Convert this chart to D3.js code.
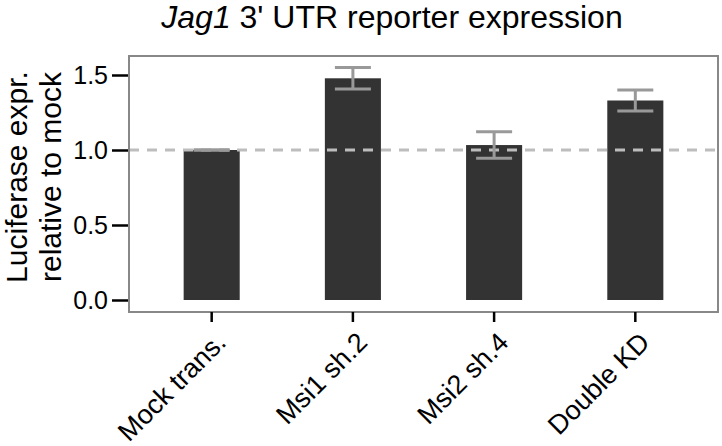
<!DOCTYPE html>
<html><head><meta charset="utf-8">
<script src="https://cdn.jsdelivr.net/npm/d3@7"></script>
<style>body{margin:0;background:#fff}svg{display:block}text{font-family:"Liberation Sans",Arial,sans-serif}</style>
</head><body>
<svg id="c" width="722" height="446"></svg>
<script>
const categories = ["Mock trans.", "Msi1 sh.2", "Msi2 sh.4", "Double KD"];
const means = [1.0, 1.478, 1.033, 1.33];
const errors = [0.0, 0.072, 0.088, 0.07];
const yTicks = [0.0, 0.5, 1.0, 1.5];
const refLine = 1.0;

const svg = d3.select("#c");
const L = 129, R = 718, T = 56, B = 312;

const x = d3.scaleBand().domain(categories).range([L, R]).paddingInner(0.603).paddingOuter(0.387);
const y = d3.scaleLinear().domain([0, 1.5]).range([300, 75]);

// bars
svg.selectAll("rect.bar").data(categories).join("rect")
  .attr("class","bar")
  .attr("x", d => x(d)).attr("width", x.bandwidth())
  .attr("y", (d,i) => y(means[i])).attr("height", (d,i) => y(0) - y(means[i]))
  .attr("fill", "#333333");

// reference dashed line
svg.append("line").attr("x1", L).attr("x2", R).attr("y1", y(refLine)).attr("y2", y(refLine))
  .attr("stroke", "#bdbdbd").attr("stroke-width", 3).attr("stroke-dasharray", "10,8");

// error bars
const capW = 36;
const eb = svg.selectAll("g.eb").data(categories).join("g").attr("class","eb")
  .attr("stroke", "#999999").attr("stroke-width", 3).attr("fill","none");
eb.append("line").attr("x1", d => x(d)+x.bandwidth()/2).attr("x2", d => x(d)+x.bandwidth()/2)
  .attr("y1", (d,i) => y(means[i]+errors[i])).attr("y2", (d,i) => y(means[i]-errors[i]));
eb.append("line").attr("x1", d => x(d)+x.bandwidth()/2-capW/2).attr("x2", d => x(d)+x.bandwidth()/2+capW/2)
  .attr("y1", (d,i) => y(means[i]+errors[i])).attr("y2", (d,i) => y(means[i]+errors[i]));
eb.append("line").attr("x1", d => x(d)+x.bandwidth()/2-capW/2).attr("x2", d => x(d)+x.bandwidth()/2+capW/2)
  .attr("y1", (d,i) => y(means[i]-errors[i])).attr("y2", (d,i) => y(means[i]-errors[i]));

// panel border
svg.append("rect").attr("x", L).attr("y", T).attr("width", R-L).attr("height", B-T)
  .attr("fill","none").attr("stroke","#888888").attr("stroke-width",2);

// y axis
const yAxis = d3.axisLeft(y).tickValues(yTicks).tickFormat(d3.format(".1f")).tickSize(18).tickPadding(3);
const ya = svg.append("g").attr("transform", `translate(${L},0)`).call(yAxis);
ya.select(".domain").remove();
ya.selectAll(".tick line").attr("stroke","#000").attr("stroke-width",2.5).attr("x2",-17).attr("x1",-1);
ya.selectAll(".tick text").attr("font-size", 25).attr("fill","#000").attr("font-family","Liberation Sans, Arial, sans-serif");

// x axis
const xAxis = d3.axisBottom(x).tickSize(10).tickPadding(4);
const xa = svg.append("g").attr("transform", `translate(0,${B})`).call(xAxis);
xa.select(".domain").remove();
xa.selectAll(".tick line").attr("stroke","#000").attr("stroke-width",2.5);
xa.selectAll(".tick text").attr("font-size", 27).attr("fill","#000")
  .attr("font-family","Liberation Sans, Arial, sans-serif")
  .attr("text-anchor","end").attr("dy", null).attr("y", 0)
  .attr("transform","translate(16,32) rotate(-45)");

// y title
const yt = svg.append("text").attr("transform","translate(0,177) rotate(-90)")
  .attr("text-anchor","middle").attr("font-size",30).attr("fill","#000");
yt.append("tspan").attr("x",0).attr("y",27).text("Luciferase expr.");
yt.append("tspan").attr("x",0).attr("y",61).text("relative to mock");

// title
const tt = svg.append("text").attr("x", 392).attr("y", 28).attr("text-anchor","middle")
  .attr("font-size", 32).attr("fill","#000");
tt.append("tspan").attr("font-style","italic").text("Jag1");
tt.append("tspan").text(" 3' UTR reporter expression");
</script>
</body></html>
